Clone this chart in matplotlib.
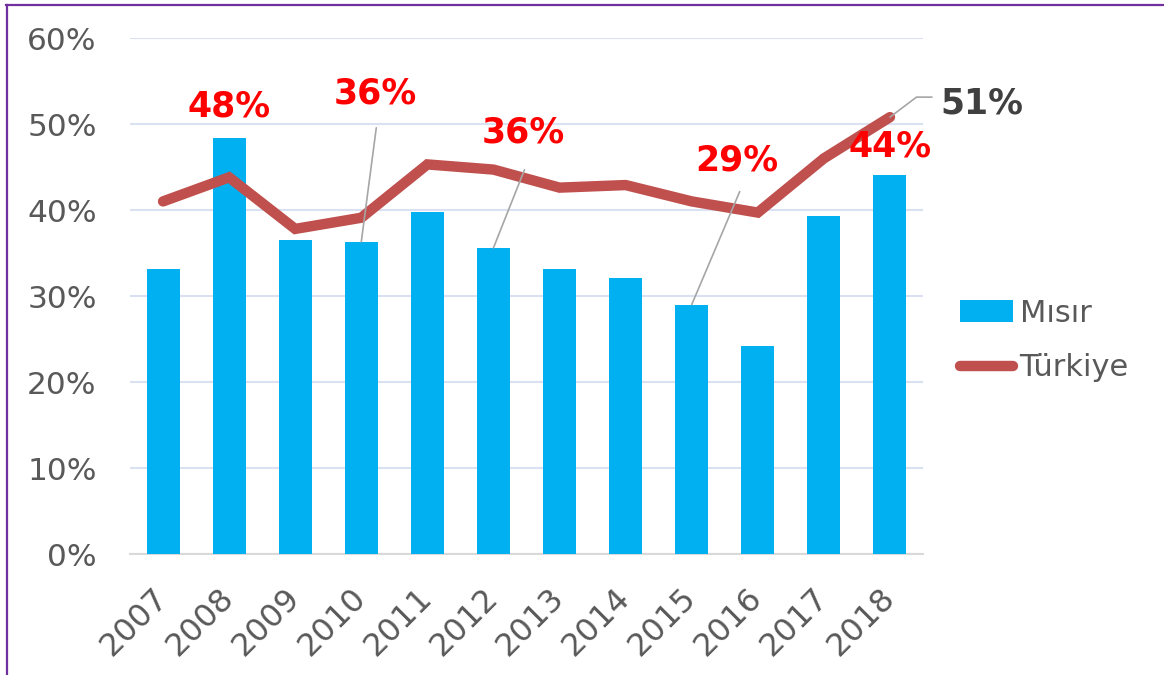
import matplotlib
matplotlib.use("Agg")
import matplotlib.pyplot as plt
from matplotlib.lines import Line2D
import numpy as np

years = ["2007", "2008", "2009", "2010", "2011", "2012", "2013", "2014", "2015", "2016", "2017", "2018"]
misir = [33.1, 48.4, 36.5, 36.3, 39.8, 35.6, 33.1, 32.1, 29.0, 24.2, 39.3, 44.1]
turkiye = [41.0, 43.8, 37.8, 39.1, 45.3, 44.7, 42.6, 42.9, 41.0, 39.7, 46.0, 50.8]
yticks = [0, 10, 20, 30, 40, 50, 60]
ytick_labels = ["0%", "10%", "20%", "30%", "40%", "50%", "60%"]

BLUE = "#00B0F0"
RED = "#C0504D"
GRID = "#D9E1F2"
TXT = "#595959"

plt.rcParams['font.family'] = ['DejaVu Sans']

fig = plt.figure(figsize=(11.64, 6.75), dpi=100)
ax = fig.add_axes([130/1164, 1-554/675, (923-130)/1164, (554-38)/675])

x = np.arange(len(years))
bars = ax.bar(x, misir, width=0.5, color=BLUE, label="Mısır", zorder=2)
line, = ax.plot(x, turkiye, color=RED, lw=7.5, solid_capstyle='round', solid_joinstyle='miter',
                label="Türkiye", zorder=3)

ax.set_xlim(-0.5, len(years) - 0.5)
ax.set_ylim(0, 60)
ax.set_yticks(yticks)
ax.set_yticklabels(ytick_labels)
ax.set_xticks(x)
ax.set_xticklabels(years, rotation=45, ha='right', va='center', rotation_mode='anchor')
ax.tick_params(axis='y', length=0, pad=24, labelsize=22.5, labelcolor=TXT)
ax.tick_params(axis='x', length=0, pad=28, labelsize=23, labelcolor=TXT)
ax.grid(axis='y', color=GRID, lw=1.5, zorder=0)
ax.set_axisbelow(True)
for s in ['left', 'right', 'top']:
    ax.spines[s].set_visible(False)
ax.spines['bottom'].set_color("#D9D9D9")
ax.spines['bottom'].set_linewidth(1.5)
ax.spines['bottom'].set_zorder(1)

LEAD = "#A6A6A6"
# labels: (index, value, text, color, leader offset px or None, text offset px, ha)
labels = [
    (1, misir[1], "48%", "#FF0000", None, (0, 31), 'center'),
    (3, misir[3], "36%", "#FF0000", (15, 114), (14, 148), 'center'),
    (5, misir[5], "36%", "#FF0000", (31, 78), (30, 115), 'center'),
    (8, misir[8], "29%", "#FF0000", (48, 113), (45, 144), 'center'),
    (11, misir[11], "44%", "#FF0000", None, (0, 28), 'center'),
]
for i, v, t, c, lead, toff, ha in labels:
    if lead is not None:
        ax.annotate("", xy=(i, v), xytext=lead, textcoords='offset pixels',
                    arrowprops=dict(arrowstyle='-', color=LEAD, lw=1.2,
                                    shrinkA=0, shrinkB=0), zorder=4)
    ax.annotate(t, xy=(i, v), xytext=toff, textcoords='offset pixels',
                ha=ha, va='center', fontsize=25, fontweight='bold', color=c, zorder=5)

# 51% label for Türkiye 2018 with bent leader
i = 11
v = turkiye[i]
ax.annotate("", xy=(i, v), xytext=(42, 20), textcoords='offset pixels',
            arrowprops=dict(arrowstyle='-', color=LEAD, lw=1.2, shrinkA=0, shrinkB=0,
                            connectionstyle="angle,angleA=0,angleB=37,rad=0"), zorder=4)
ax.annotate("51%", xy=(i, v), xytext=(50, 14), textcoords='offset pixels',
            ha='left', va='center', fontsize=25, fontweight='bold', color="#404040",
            zorder=5, annotation_clip=False)

leg = fig.legend(handles=[bars, line], labels=["Mısır", "Türkiye"],
                 loc='center left', bbox_to_anchor=(960/1164, 1-340.5/675),
                 frameon=False, fontsize=22, handlelength=1.75, handletextpad=0.2,
                 labelspacing=0.85, borderpad=0, borderaxespad=0)
for t in leg.get_texts():
    t.set_color(TXT)

# purple frame (top and left)
fig.add_artist(Line2D([6/1164, 1], [1-4.5/675, 1-4.5/675], color="#7030A0", lw=1.6,
                      transform=fig.transFigure))
fig.add_artist(Line2D([6.5/1164, 6.5/1164], [0, 1-4.5/675], color="#7030A0", lw=1.6,
                      transform=fig.transFigure))

fig.savefig("out.png", dpi=100)
